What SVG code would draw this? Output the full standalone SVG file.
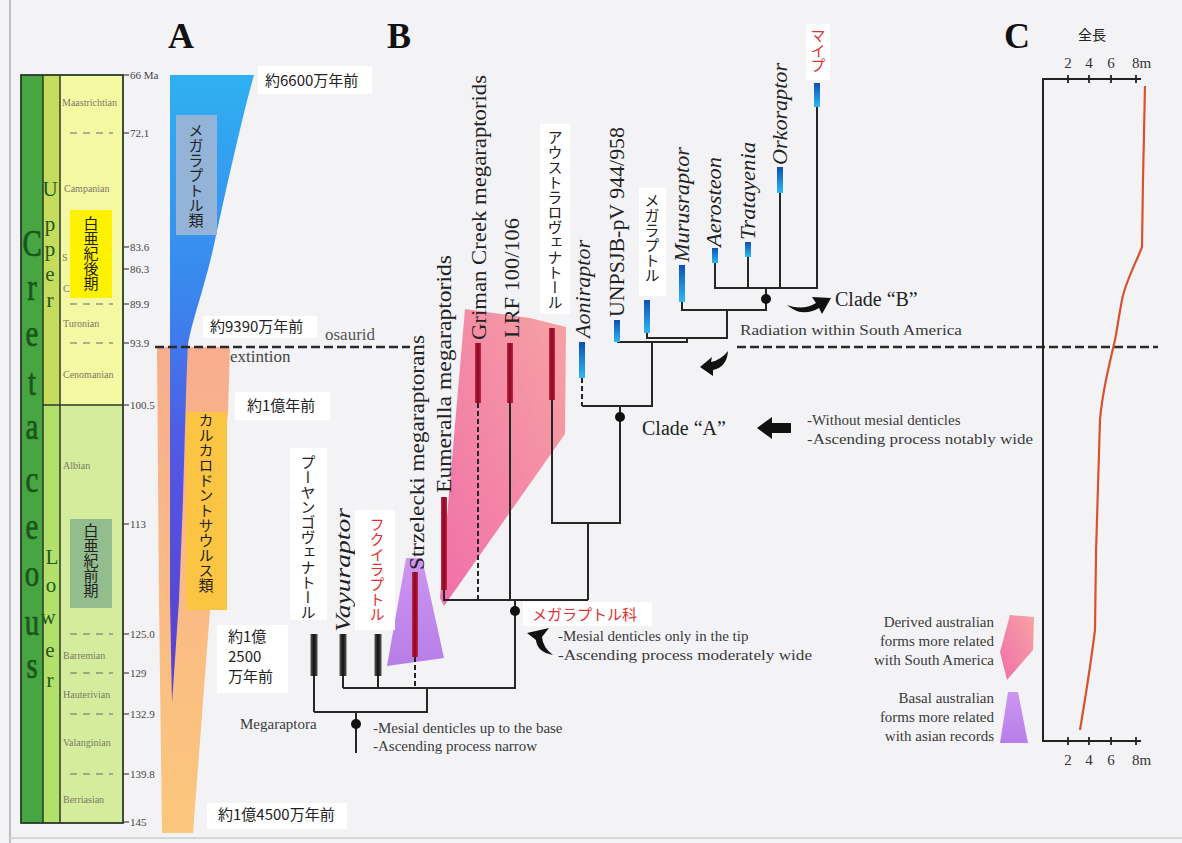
<svg xmlns="http://www.w3.org/2000/svg" width="1182" height="843" viewBox="0 0 1182 843">
<defs>
<style>
.tick{font-family:"Liberation Serif","DejaVu Serif",serif;font-size:11px;fill:#444}
.stage{font-family:"Liberation Serif","DejaVu Serif",serif;font-size:10px;fill:#7a7a66}
.cret{font-family:"Liberation Serif","DejaVu Serif",serif;font-size:36px;fill:#1a561a;stroke:#1a561a;stroke-width:0.7}
.ul{font-family:"Liberation Serif","DejaVu Serif",serif;font-size:21px;fill:#1c5a1c}
.vj{font-family:"Noto Sans CJK JP","Noto Sans",sans-serif;font-size:15px;writing-mode:vertical-rl;text-orientation:upright;fill:#222}
.tax{font-family:"Liberation Serif","DejaVu Serif",serif;font-size:21px;fill:#222}
.taxi{font-family:"Liberation Serif","DejaVu Serif",serif;font-size:21px;font-style:italic;fill:#222}
.note{font-family:"Liberation Serif","DejaVu Serif",serif;font-size:15px;fill:#3a3a3a}
.clade{font-family:"Liberation Serif","DejaVu Serif",serif;font-size:20px;fill:#222}
.jl{font-family:"Noto Sans CJK JP","Noto Sans",sans-serif;font-size:15px;fill:#222}
.panel{font-family:"Liberation Serif","DejaVu Serif",serif;font-size:36px;font-weight:bold;fill:#111}
.ax{font-family:"Liberation Serif","DejaVu Serif",serif;font-size:15px;fill:#333}
.ln{stroke:#262626;stroke-width:2;fill:none}
.dsh{stroke:#262626;stroke-width:2;fill:none;stroke-dasharray:5 3}
.wb{fill:#ffffff}
.red{fill:#e03030}
.dot{fill:#111}
.sd{stroke:#666;stroke-width:1.2;stroke-dasharray:7 6}
.tk{stroke:#444;stroke-width:1.2}
</style>
<linearGradient id="gBlueWedge" x1="0" y1="0" x2="0" y2="1">
<stop offset="0" stop-color="#2fb0f2"/>
<stop offset="0.35" stop-color="#3a86ee"/>
<stop offset="0.6" stop-color="#5158e2"/>
<stop offset="1" stop-color="#5a3ed0"/>
</linearGradient>
<linearGradient id="gOrange" x1="0" y1="0" x2="0" y2="1">
<stop offset="0" stop-color="#f8ad8e"/>
<stop offset="1" stop-color="#fbc77c"/>
</linearGradient>
<linearGradient id="gBlueBar" x1="0" y1="0" x2="0" y2="1">
<stop offset="0" stop-color="#0d4fb5"/>
<stop offset="1" stop-color="#2cb8f2"/>
</linearGradient>
<linearGradient id="gRedBar" x1="0" y1="0" x2="1" y2="0">
<stop offset="0" stop-color="#c2244a"/>
<stop offset="0.5" stop-color="#86081f"/>
<stop offset="1" stop-color="#c2244a"/>
</linearGradient>
<linearGradient id="gBlackBar" x1="0" y1="0" x2="1" y2="0">
<stop offset="0" stop-color="#555"/>
<stop offset="0.5" stop-color="#111"/>
<stop offset="1" stop-color="#555"/>
</linearGradient>
<linearGradient id="gPink" x1="0" y1="1" x2="1" y2="0">
<stop offset="0" stop-color="#f060a0"/>
<stop offset="1" stop-color="#f69a9a"/>
</linearGradient>
<linearGradient id="gPurple" x1="0" y1="0" x2="0" y2="1">
<stop offset="0" stop-color="#c88cf0"/>
<stop offset="1" stop-color="#b070e6"/>
</linearGradient>
</defs>

<rect width="1182" height="843" fill="#f3f3f6"/>
<line x1="10" y1="0" x2="10" y2="843" stroke="#bdbdbd" stroke-width="2"/>
<line x1="10" y1="838" x2="1182" y2="838" stroke="#d6d6d6" stroke-width="2"/>

<!-- Panel A: stratigraphic column -->
<g id="strat-column">
<rect x="21" y="75" width="22" height="748" fill="#47a642"/>
<rect x="43" y="75" width="17" height="330" fill="#c6dc5c"/>
<rect x="43" y="405" width="17" height="418" fill="#b3e06a"/>
<rect x="60" y="75" width="63" height="330" fill="#f5f8a2"/>
<rect x="60" y="405" width="63" height="418" fill="#d4ec9c"/>
<rect x="21" y="75" width="102" height="748" fill="none" stroke="#2a3a2a" stroke-width="1.8"/>
<line x1="43" y1="75" x2="43" y2="823" stroke="#2a3a2a" stroke-width="1.5"/>
<line x1="60" y1="75" x2="60" y2="823" stroke="#2a3a2a" stroke-width="1.5"/>
<line x1="43" y1="405" x2="123" y2="405" stroke="#2a3a2a" stroke-width="1.5"/>
<line class="sd" x1="70" y1="133" x2="113" y2="133"/>
<line class="sd" x1="70" y1="304" x2="113" y2="304"/>
<line class="sd" x1="70" y1="343" x2="113" y2="343"/>
<line class="sd" x1="70" y1="634" x2="113" y2="634"/>
<line class="sd" x1="70" y1="673" x2="113" y2="673"/>
<line class="sd" x1="70" y1="714" x2="113" y2="714"/>
<line class="sd" x1="70" y1="774" x2="113" y2="774"/>
<g class="tk">
<line x1="123" y1="75" x2="129" y2="75"/><line x1="123" y1="133" x2="129" y2="133"/>
<line x1="123" y1="247" x2="129" y2="247"/><line x1="123" y1="269" x2="129" y2="269"/>
<line x1="123" y1="304" x2="129" y2="304"/><line x1="123" y1="343" x2="129" y2="343"/>
<line x1="123" y1="405" x2="129" y2="405"/><line x1="123" y1="524" x2="129" y2="524"/>
<line x1="123" y1="634" x2="129" y2="634"/><line x1="123" y1="673" x2="129" y2="673"/>
<line x1="123" y1="714" x2="129" y2="714"/><line x1="123" y1="774" x2="129" y2="774"/>
<line x1="123" y1="822" x2="129" y2="822"/>
</g>
<text class="tick" x="130" y="79">66 Ma</text>
<text class="tick" x="130" y="137">72.1</text>
<text class="tick" x="130" y="251">83.6</text>
<text class="tick" x="130" y="273">86.3</text>
<text class="tick" x="130" y="308">89.9</text>
<text class="tick" x="130" y="347">93.9</text>
<text class="tick" x="130" y="409">100.5</text>
<text class="tick" x="130" y="528">113</text>
<text class="tick" x="130" y="638">125.0</text>
<text class="tick" x="130" y="677">129</text>
<text class="tick" x="130" y="718">132.9</text>
<text class="tick" x="130" y="778">139.8</text>
<text class="tick" x="130" y="826">145</text>
<text class="stage" x="62" y="106">Maastrichtian</text>
<text class="stage" x="64" y="192">Campanian</text>
<text class="stage" x="62" y="261">S</text>
<text class="stage" x="63" y="292">C</text>
<text class="stage" x="63" y="327">Turonian</text>
<text class="stage" x="63" y="378">Cenomanian</text>
<text class="stage" x="63" y="469">Albian</text>
<text class="stage" x="72" y="583">Ap</text>
<text class="stage" x="63" y="659">Barremian</text>
<text class="stage" x="63" y="698">Hauterivian</text>
<text class="stage" x="63" y="746">Valanginian</text>
<text class="stage" x="63" y="803">Berriasian</text>
<rect x="70" y="210" width="42" height="88" fill="#fff200"/>
<text class="vj" x="91" y="216">白亜紀後期</text>
<rect x="70" y="519" width="42" height="89" fill="#93bd8c"/>
<text class="vj" x="91" y="523">白亜紀前期</text>
<g class="cret" text-anchor="middle">
<text transform="translate(32,256) scale(0.8,1.05)">C</text>
<text transform="translate(32,300) scale(0.8,1.05)">r</text>
<text transform="translate(32,346) scale(0.8,1.05)">e</text>
<text transform="translate(32,395) scale(0.8,1.05)">t</text>
<text transform="translate(32,439) scale(0.8,1.05)">a</text>
<text transform="translate(32,492) scale(0.8,1.05)">c</text>
<text transform="translate(32,539) scale(0.8,1.05)">e</text>
<text transform="translate(32,586) scale(0.8,1.05)">o</text>
<text transform="translate(32,635) scale(0.8,1.05)">u</text>
<text transform="translate(32,678) scale(0.8,1.05)">s</text>
</g>
<g class="ul" text-anchor="middle">
<text x="50" y="196">U</text>
<text x="50" y="231">p</text>
<text x="50" y="256">p</text>
<text x="50" y="281">e</text>
<text x="50" y="307">r</text>
<text x="52" y="564">L</text>
<text x="51" y="592">o</text>
<text x="48" y="624">w</text>
<text x="50" y="657">e</text>
<text x="50" y="687">r</text>
</g>
</g>

<!-- Panel A: ranges -->
<g id="carcharodontosaurid-range">
<path d="M157,347 L230,347 L228,412 L210,610 L193,833 L162,833 L159,600 Z" fill="url(#gOrange)"/>
<rect x="186" y="412" width="41" height="198" fill="#fbc442"/>
<text class="vj" x="206" y="413">カルカロドントサウルス類</text>
</g>
<g id="megaraptoran-range">
<path d="M170,75 L254,75 C244,110 228,180 214,245 C204,290 192,320 188,345 C186,380 185,440 183,500 L179,600 L172,703 L170,600 Z" fill="url(#gBlueWedge)"/>
<rect x="176" y="115" width="41" height="120" fill="#93b3d8"/>
<text class="vj" x="196" y="123">メガラプトル類</text>
</g>
<g id="time-labels">
<rect class="wb" x="258" y="66" width="114" height="28"/>
<text class="jl" x="265" y="86">約6600万年前</text>
<rect class="wb" x="235" y="392" width="95" height="28"/>
<text class="jl" x="247" y="411">約1億年前</text>
<rect class="wb" x="217" y="625" width="71" height="68"/>
<text class="jl" font-size="13.5"><tspan x="228" y="642">約1億</tspan><tspan x="228" y="662">2500</tspan><tspan x="228" y="682">万年前</tspan></text>
<rect class="wb" x="207" y="803" width="140" height="26"/>
<text class="jl" x="218" y="820">約1億4500万年前</text>
</g>

<!-- extinction line -->
<g id="extinction">
<text x="325" y="340" font-family="Liberation Serif, serif" font-size="17" fill="#555">osaurid</text>
<rect class="wb" x="203" y="316" width="114" height="22"/>
<text class="jl" x="210" y="332">約9390万年前</text>
<line x1="155" y1="347" x2="410" y2="347" stroke="#2a2a2a" stroke-width="2.5" stroke-dasharray="9 4"/>
<line x1="737" y1="347" x2="1158" y2="347" stroke="#2a2a2a" stroke-width="2.5" stroke-dasharray="9 4"/>
<text x="230" y="362" font-family="Liberation Serif, serif" font-size="17" fill="#444">extintion</text>
</g>

<text class="panel" x="168" y="48">A</text>
<text class="panel" x="387" y="48">B</text>
<text class="panel" x="1004" y="48">C</text>

<!-- Panel B: clade polygons -->
<g id="derived-australian-polygon">
<path d="M465,309 L530,318 L566,327 L565,434 L444,606 L440,598 Z" fill="url(#gPink)" opacity="0.9"/>
</g>
<g id="basal-australian-polygon">
<path d="M406,558 L422,558 L444,658 L387,666 Z" fill="url(#gPurple)" opacity="0.9"/>
</g>

<!-- connectors -->
<g id="connectors">
<path class="ln" d="M314,676 V712 M314,712 H427 V688 M343,676 V688 M378,676 V688 M343,688 H516 M515,688 V600 M356,712 V753"/>
<path class="dsh" d="M415,657 V688"/>
<path class="ln" d="M444,590 V600 H588 M510,403 V600 M588,600 V523 M552,400 V523 H620 V406"/>
<path class="dsh" d="M478,403 V600"/>
<path class="dsh" d="M582,378 V406"/>
<path class="ln" d="M582,406 H652 V342 M617,342 H687 V338 M647,333 V338 H727 V310 M682,302 V310 H766 V288 M715,263 V288 H817 V107 M748,257 V288 M780,193 V288"/>
</g>

<!-- node dots -->
<g id="node-megaraptora"><circle class="dot" cx="356" cy="724" r="5"/></g>
<g id="node-megaraptoridae"><circle class="dot" cx="515" cy="611" r="5"/></g>
<g id="node-cladeA"><circle class="dot" cx="620" cy="417" r="5"/></g>
<g id="node-cladeB"><circle class="dot" cx="766" cy="299" r="5"/></g>

<!-- taxa -->
<g id="taxon-phuwiangvenator">
<rect class="wb" x="290" y="448" width="37" height="172"/>
<text class="vj" x="308" y="455">プーヤンゴヴェナトール</text>
<rect x="310.5" y="634" width="7" height="42" fill="url(#gBlackBar)"/>
</g>
<g id="taxon-vayuraptor">
<text class="taxi" font-size="24" transform="translate(350,632) rotate(-90)" textLength="124" lengthAdjust="spacingAndGlyphs">Vayuraptor</text>
<rect x="339.5" y="634" width="7" height="42" fill="url(#gBlackBar)"/>
</g>
<g id="taxon-fukuiraptor">
<rect class="wb" x="355" y="510" width="40" height="120"/>
<text class="vj red" x="377" y="517">フクイラプトル</text>
<rect x="374.5" y="634" width="7" height="42" fill="url(#gBlackBar)"/>
</g>
<g id="taxon-strzelecki">
<text class="tax" transform="translate(424,570) rotate(-90)" textLength="235" lengthAdjust="spacingAndGlyphs">Strzelecki megaraptorans</text>
<rect x="412" y="572" width="6" height="85" fill="url(#gRedBar)"/>
</g>
<g id="taxon-eumeralla">
<text class="tax" transform="translate(451,493) rotate(-90)" textLength="238" lengthAdjust="spacingAndGlyphs">Eumeralla megaraptorids</text>
<rect x="441" y="497" width="6" height="93" fill="url(#gRedBar)"/>
</g>
<g id="taxon-griman">
<text class="tax" transform="translate(486,340) rotate(-90)" textLength="265" lengthAdjust="spacingAndGlyphs">Griman Creek megaraptorids</text>
<rect x="475" y="343" width="6" height="60" fill="url(#gRedBar)"/>
</g>
<g id="taxon-lrf">
<text class="tax" transform="translate(519,338) rotate(-90)" textLength="120" lengthAdjust="spacingAndGlyphs">LRF 100/106</text>
<rect x="507" y="343" width="6" height="60" fill="url(#gRedBar)"/>
</g>
<g id="taxon-australovenator">
<rect class="wb" x="540" y="124" width="30" height="190"/>
<text class="vj" x="555" y="130">アウストラロヴェナトール</text>
<rect x="549" y="328" width="6" height="72" fill="url(#gRedBar)"/>
</g>
<g id="taxon-aoniraptor">
<text class="taxi" transform="translate(590,338) rotate(-90)" textLength="98" lengthAdjust="spacingAndGlyphs">Aoniraptor</text>
<rect x="579" y="342" width="6" height="36" fill="url(#gBlueBar)"/>
</g>
<g id="taxon-unpsjb">
<text class="tax" transform="translate(624,317) rotate(-90)" textLength="190" lengthAdjust="spacingAndGlyphs">UNPSJB-pV 944/958</text>
<rect x="614" y="320" width="6" height="22" fill="url(#gBlueBar)"/>
</g>
<g id="taxon-megaraptor">
<rect class="wb" x="639" y="188" width="27" height="108"/>
<text class="vj" x="652" y="193" font-size="16">メガラプトル</text>
<rect x="644" y="300" width="6" height="33" fill="url(#gBlueBar)"/>
</g>
<g id="taxon-murusraptor">
<text class="taxi" transform="translate(689,262) rotate(-90)" textLength="115" lengthAdjust="spacingAndGlyphs">Murusraptor</text>
<rect x="679" y="265" width="6" height="37" fill="url(#gBlueBar)"/>
</g>
<g id="taxon-aerosteon">
<text class="taxi" transform="translate(721,247) rotate(-90)" textLength="90" lengthAdjust="spacingAndGlyphs">Aerosteon</text>
<rect x="712" y="248" width="6" height="15" fill="url(#gBlueBar)"/>
</g>
<g id="taxon-tratayenia">
<text class="taxi" transform="translate(755,240) rotate(-90)" textLength="98" lengthAdjust="spacingAndGlyphs">Tratayenia</text>
<rect x="745" y="242" width="6" height="15" fill="url(#gBlueBar)"/>
</g>
<g id="taxon-orkoraptor">
<text class="taxi" transform="translate(787,165) rotate(-90)" textLength="102" lengthAdjust="spacingAndGlyphs">Orkoraptor</text>
<rect x="777" y="167" width="6" height="26" fill="url(#gBlueBar)"/>
</g>
<g id="taxon-maip">
<rect class="wb" x="806" y="24" width="24" height="56"/>
<text class="vj red" x="818" y="28" font-size="16">マイプ</text>
<rect x="814" y="83" width="6" height="24" fill="url(#gBlueBar)"/>
</g>

<!-- annotations -->
<g id="label-megaraptora">
<text class="note" x="240" y="729" fill="#555" font-size="16">Megaraptora</text>
<text class="note" x="373" y="733">-Mesial denticles up to the base</text>
<text class="note" x="373" y="751">-Ascending process narrow</text>
</g>
<g id="label-megaraptoridae">
<rect class="wb" x="523" y="602" width="129" height="24"/>
<text class="jl red" x="532" y="620">メガラプトル科</text>
<path d="M527,633 L549,628 L542,637 Q543,648 553,655 Q537,652 536,640 Z" fill="#111"/>
<text class="note" x="558" y="641">-Mesial denticles only in the tip</text>
<text class="note" x="558" y="660" textLength="254" lengthAdjust="spacingAndGlyphs">-Ascending process moderately wide</text>
</g>
<g id="label-cladeA">
<text class="clade" x="642" y="435">Clade “A”</text>
<polygon points="757,428 772,417 772,423 791,423 791,433 772,433 772,439" fill="#111"/>
<text class="note" x="807" y="425">-Without mesial denticles</text>
<text class="note" x="807" y="444" textLength="226" lengthAdjust="spacingAndGlyphs">-Ascending process notably wide</text>
<path d="M700,367 L712,357 L711,362 Q721,360 728,351 Q727,367 713,370 L713,376 Z" fill="#111"/>
</g>
<g id="label-cladeB">
<path d="M787,305 Q803,311 816,303 L812,297 L831,298 L822,314 L819,308 Q802,318 787,305 Z" fill="#111"/>
<text class="clade" x="835" y="306">Clade “B”</text>
<text class="note" x="740" y="335" textLength="222" lengthAdjust="spacingAndGlyphs" fill="#444">Radiation within South America</text>
</g>

<!-- legend -->
<g id="legend">
<path d="M1010,615 L1034,617 L1033,650 L1007,680 L1000,652 Z" fill="url(#gPink)" opacity="0.9"/>
<path d="M1008,692 L1018,692 L1028,743 L1000,743 Z" fill="url(#gPurple)" opacity="0.9"/>
<g class="note" text-anchor="end" fill="#333">
<text x="994" y="627">Derived australian</text>
<text x="994" y="646">forms more related</text>
<text x="994" y="665">with South America</text>
<text x="994" y="703">Basal australian</text>
<text x="994" y="722">forms more related</text>
<text x="994" y="741">with asian records</text>
</g>
</g>

<!-- Panel C -->
<g id="panel-c">
<text x="1092" y="40" text-anchor="middle" font-family="Noto Sans CJK JP, sans-serif" font-size="14" fill="#222">全長</text>
<path d="M1141,79 H1043 V741 H1141" stroke="#222" stroke-width="2" fill="none"/>
<g stroke="#222" stroke-width="1.8">
<line x1="1068" y1="75" x2="1068" y2="83"/><line x1="1089" y1="75" x2="1089" y2="83"/>
<line x1="1111" y1="75" x2="1111" y2="83"/><line x1="1136" y1="75" x2="1136" y2="83"/>
<line x1="1068" y1="737" x2="1068" y2="745"/><line x1="1089" y1="737" x2="1089" y2="745"/>
<line x1="1111" y1="737" x2="1111" y2="745"/><line x1="1136" y1="737" x2="1136" y2="745"/>
</g>
<g class="ax">
<text x="1068" y="68" text-anchor="middle">2</text>
<text x="1089" y="68" text-anchor="middle">4</text>
<text x="1111" y="68" text-anchor="middle">6</text>
<text x="1132" y="68">8m</text>
<text x="1068" y="765" text-anchor="middle">2</text>
<text x="1089" y="765" text-anchor="middle">4</text>
<text x="1111" y="765" text-anchor="middle">6</text>
<text x="1132" y="765">8m</text>
</g>
<path d="M1145,86 L1143,180 L1142,247 C1135,265 1125,283 1122,300 C1119,315 1117,330 1115,340 C1108,370 1102,395 1100,420 L1096,553 L1095,630 C1090,670 1085,700 1080,730" stroke="#d9522e" stroke-width="2.2" fill="none"/>
</g>
</svg>
